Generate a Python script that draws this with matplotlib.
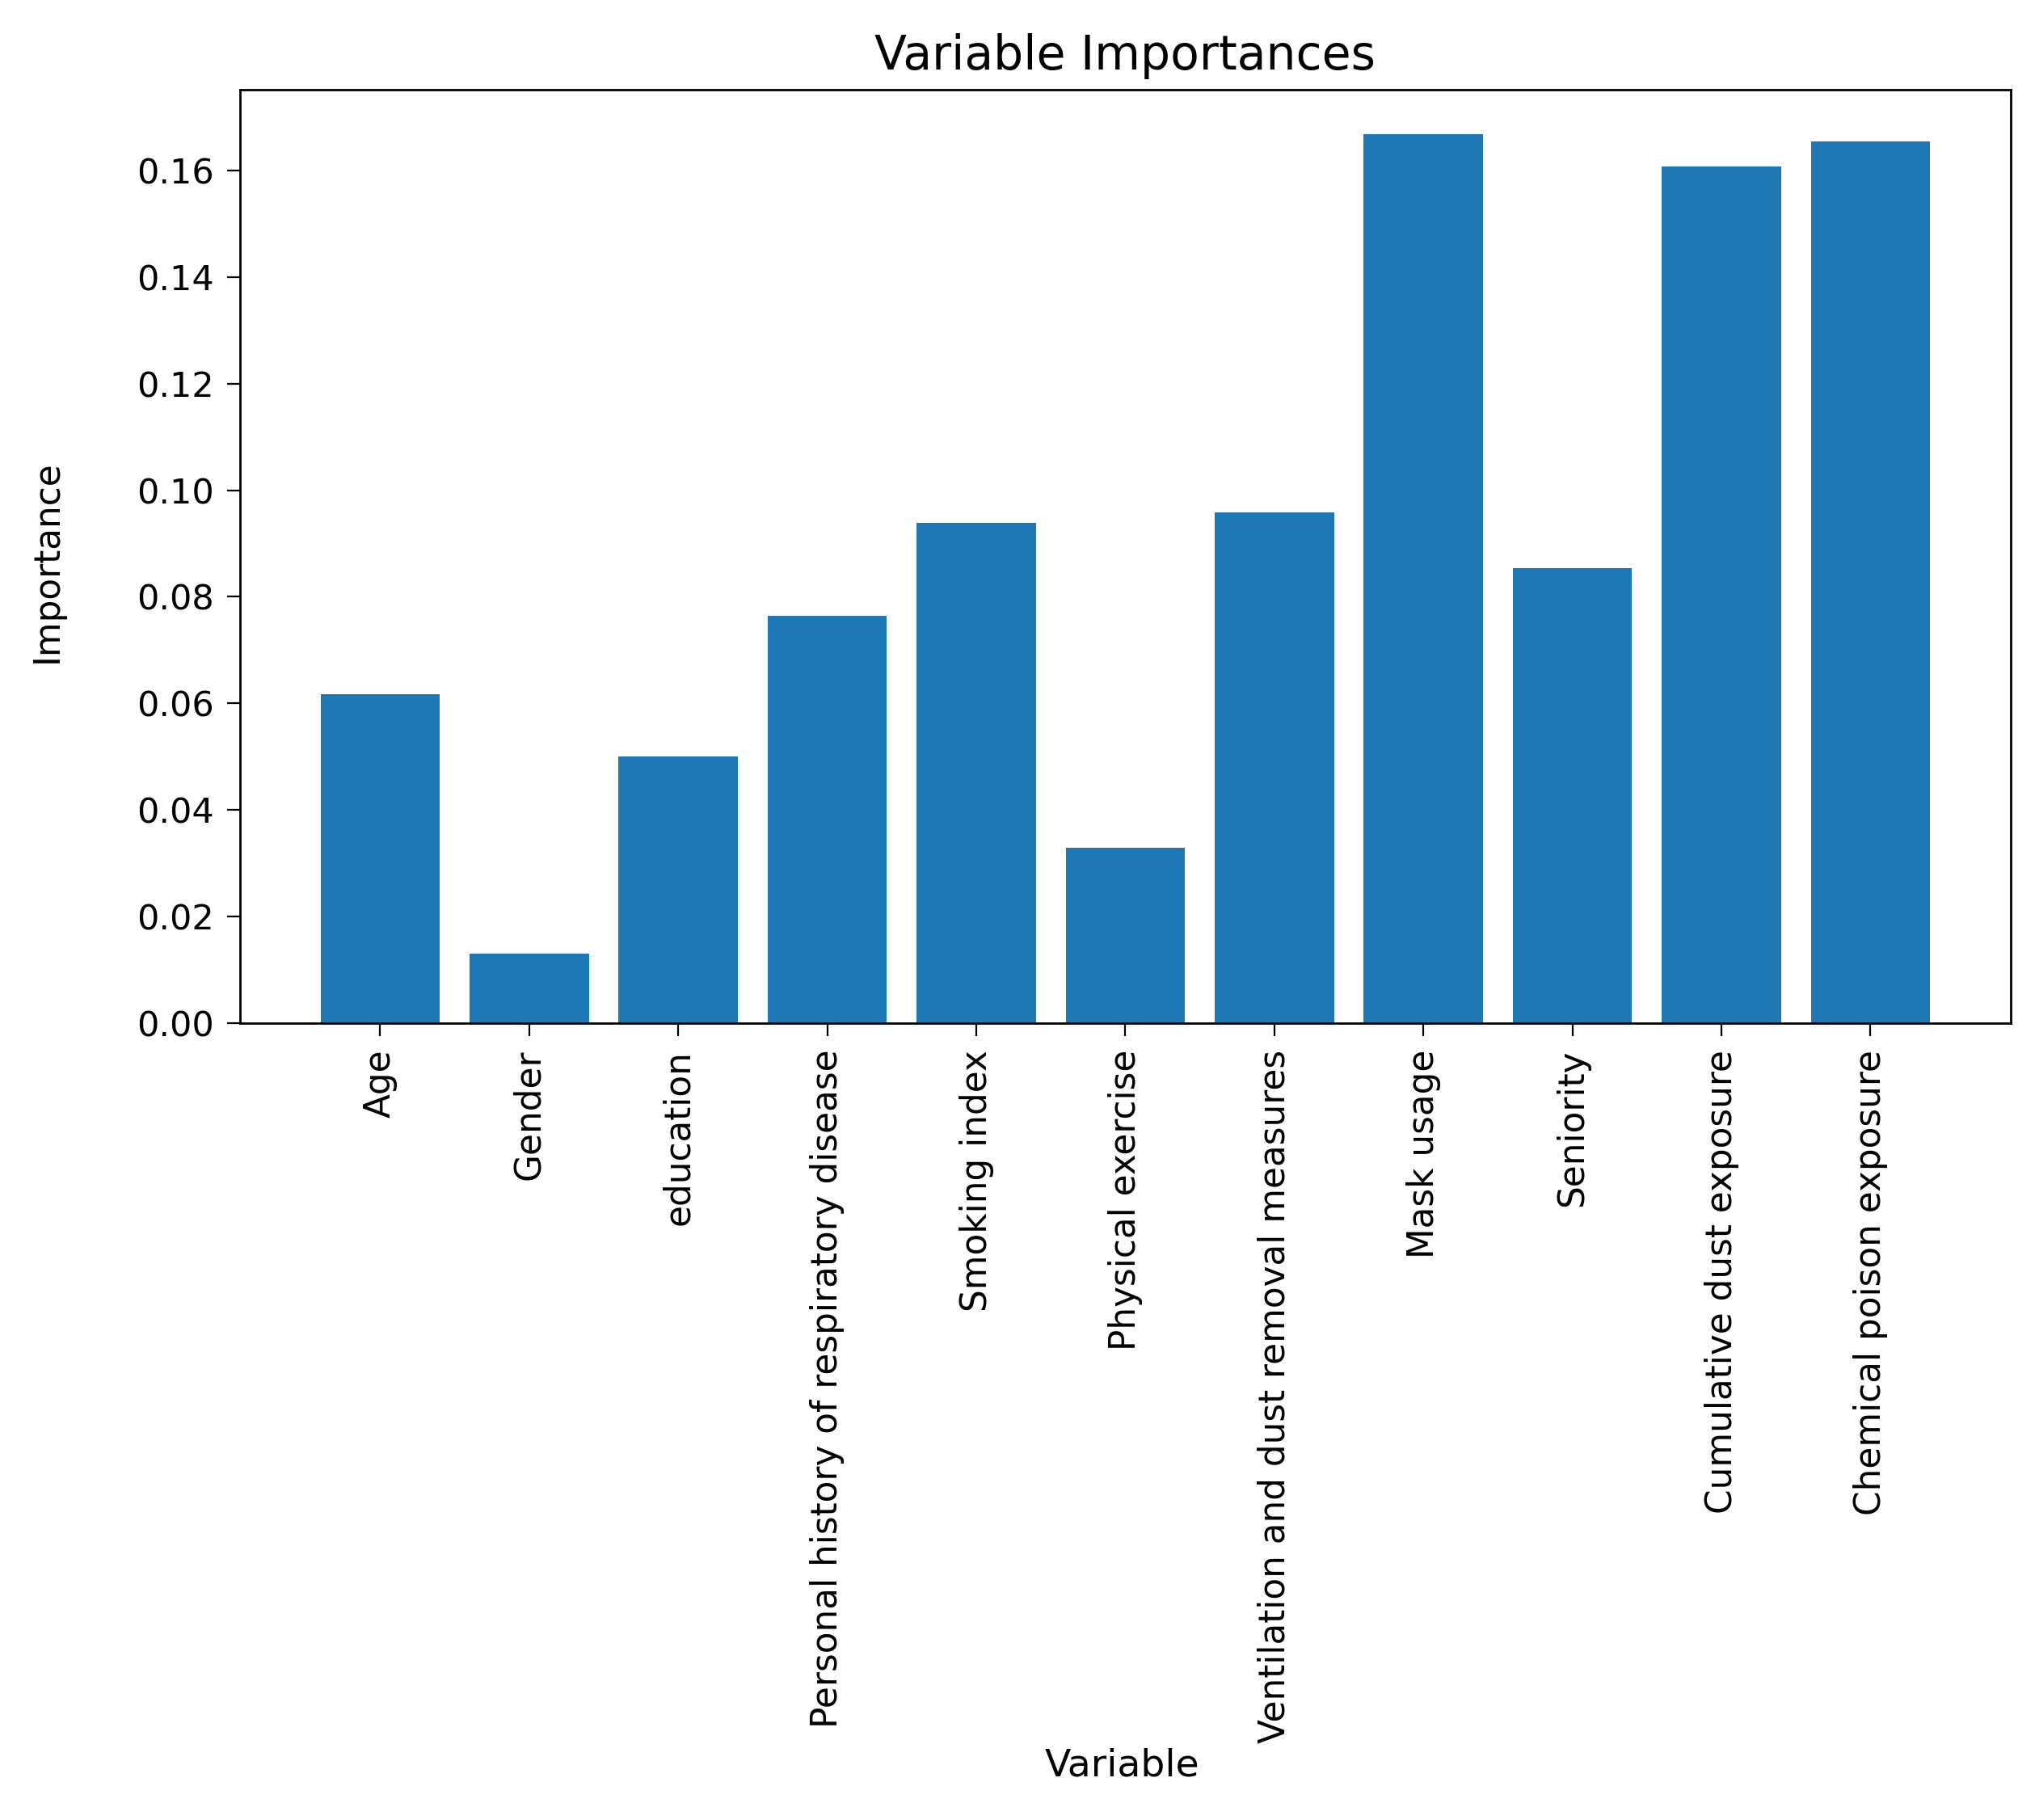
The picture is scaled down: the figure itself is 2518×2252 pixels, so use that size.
import matplotlib
matplotlib.use("Agg")
import matplotlib.pyplot as plt

variables = ["Age", "Gender", "education", "Personal history of respiratory disease",
             "Smoking index", "Physical exercise", "Ventilation and dust removal measures",
             "Mask usage", "Seniority", "Cumulative dust exposure", "Chemical poison exposure"]
importances = [0.0618, 0.0130, 0.0500, 0.0765, 0.0939, 0.0329, 0.0958,
               0.1668, 0.0854, 0.1607, 0.1654]

fig = plt.figure(figsize=(25.18, 22.52), dpi=100)
ax = fig.add_axes([0.118, 0.4378, 0.870, 0.5129])

ax.bar(variables, importances, color="#1f77b4")
ax.set_title("Variable Importances", fontsize=42, pad=18)
ax.set_xlabel("Variable", fontsize=34)
ax.set_ylabel("Importance", fontsize=31.5)
ax.xaxis.set_label_coords(0.498, -0.776)
ax.yaxis.set_label_coords(-0.099, 0.495)

ax.tick_params(axis="x", labelrotation=90, labelsize=31.5, length=11.5, width=1.6, pad=12)
ax.tick_params(axis="y", labelsize=31, length=11.5, width=1.6, pad=12)
for s in ax.spines.values():
    s.set_linewidth(2)

fig.savefig("out.png", dpi=100)
